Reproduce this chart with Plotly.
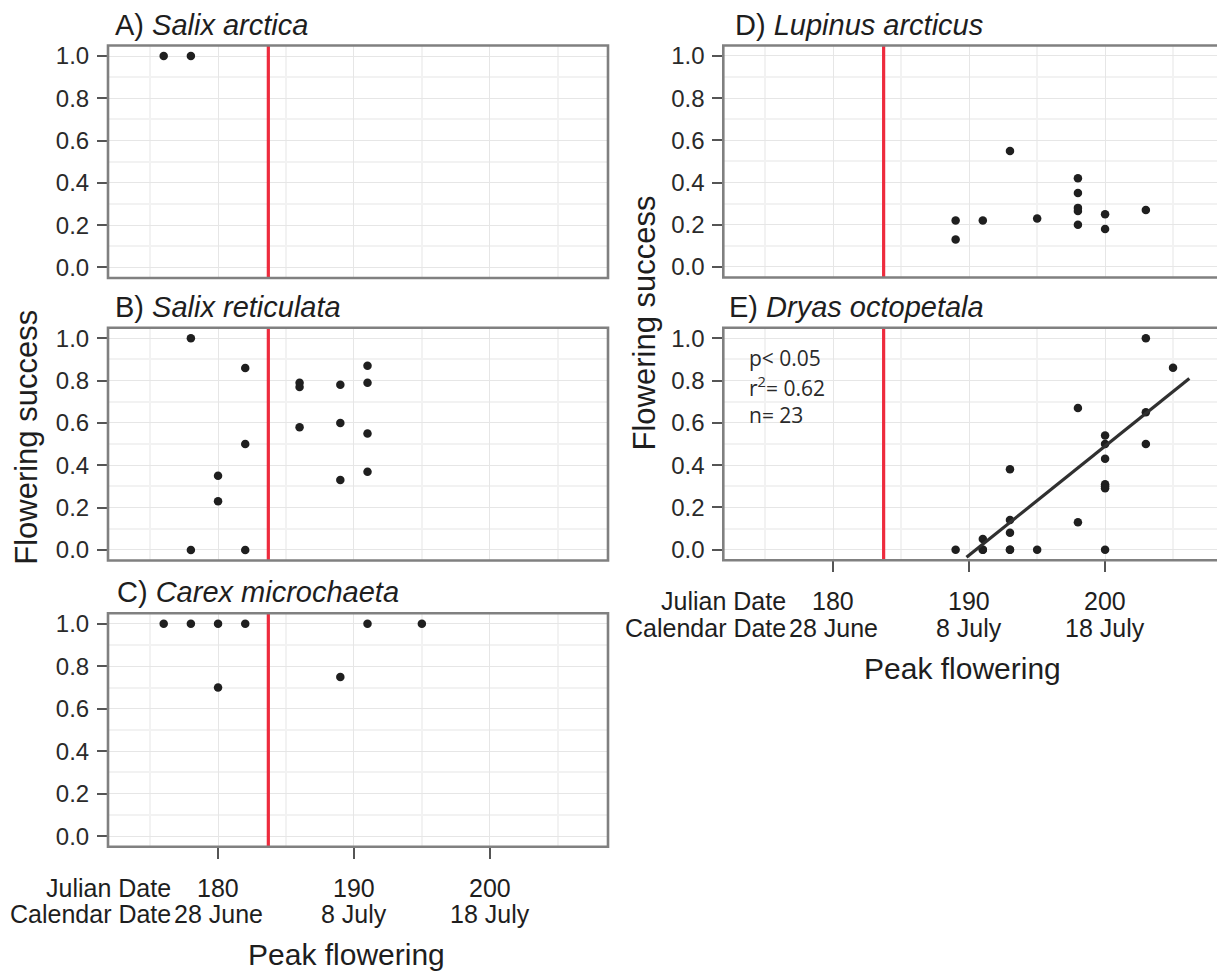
import plotly.graph_objects as go

# ---------------- data ----------------
A_day = [176, 178]
A_succ = [1.0, 1.0]

B_day = [178, 178, 180, 180, 182, 182, 182, 186, 186, 186, 189, 189, 189, 191, 191, 191, 191]
B_succ = [1.0, 0.0, 0.35, 0.23, 0.86, 0.50, 0.0, 0.79, 0.77, 0.58, 0.78, 0.60, 0.33, 0.87, 0.79, 0.55, 0.37]

C_day = [176, 178, 180, 180, 182, 189, 191, 195]
C_succ = [1.0, 1.0, 1.0, 0.70, 1.0, 0.75, 1.0, 1.0]

D_day = [189, 189, 191, 193, 195, 198, 198, 198, 198, 198, 200, 200, 203]
D_succ = [0.22, 0.13, 0.22, 0.55, 0.23, 0.42, 0.35, 0.28, 0.265, 0.20, 0.25, 0.18, 0.27]

E_day = [189, 191, 191, 191, 193, 193, 193, 193, 193, 195, 198, 198,
         200, 200, 200, 200, 200, 200, 200, 203, 203, 203, 205]
E_succ = [0.0, 0.05, 0.0, 0.0, 0.38, 0.14, 0.08, 0.0, 0.0, 0.0, 0.67, 0.13,
          0.54, 0.50, 0.43, 0.31, 0.30, 0.29, 0.0, 1.0, 0.65, 0.50, 0.86]

E_fit_day = [189.8, 206.2]
E_fit_succ = [-0.036, 0.81]

snowmelt_day = 183.7

julian_ticks = [180, 190, 200]
calendar_labels = ["28 June", "8 July", "18 July"]
minor_days = [175, 185, 195, 205]
y_ticks = [0.0, 0.2, 0.4, 0.6, 0.8, 1.0]
y_labels = ["0.0", "0.2", "0.4", "0.6", "0.8", "1.0"]
y_minor = [0.1, 0.3, 0.5, 0.7, 0.9]

titles = ["A) <i>Salix arctica</i>", "B) <i>Salix reticulata</i>", "C) <i>Carex microchaeta</i>",
          "D) <i>Lupinus arcticus</i>", "E) <i>Dryas octopetala</i>"]
stats_lines = ["p< 0.05", "r<sup>2</sup>= 0.62", "n= 23"]

# ---------------- layout geometry (pixels) ----------------
W, H = 1217, 974
FONT = "Liberation Sans, Arial, sans-serif"
TXT = "#1e1e1e"


def fx(p):
    return p / W


def fy(p):
    return 1 - p / H


PXDAY = 500 / (208.7 - 171.9)
panels = [
    dict(x=(108, 608), y=(42.7, 276.7), day=A_day, succ=A_succ, bottom=False, tdx=4.7),
    dict(x=(108, 608), y=(326.7, 561.0), day=B_day, succ=B_succ, bottom=False, tdx=5.3),
    dict(x=(108, 608), y=(614.0, 849.0), day=C_day, succ=C_succ, bottom=True, tdx=6.5),
    dict(x=(723.3, 1217), y=(42.7, 276.2), day=D_day, succ=D_succ, bottom=False, tdx=10),
    dict(x=(723.3, 1217), y=(326.7, 560.7), day=E_day, succ=E_succ, bottom=True, tdx=4),
]

fig = go.Figure()
layout = dict(
    width=W, height=H, margin=dict(l=0, r=0, t=0, b=0),
    paper_bgcolor="white", plot_bgcolor="white", showlegend=False,
    font=dict(family=FONT, color=TXT),
)
shapes = []
annotations = []

for i, p in enumerate(panels, start=1):
    xa = "xaxis" if i == 1 else f"xaxis{i}"
    ya = "yaxis" if i == 1 else f"yaxis{i}"
    xr = "x" if i == 1 else f"x{i}"
    yr = "y" if i == 1 else f"y{i}"
    x0, x1 = p["x"]
    y0, y1 = p["y"]
    xmax = 171.9 + (x1 - x0) / PXDAY
    layout[xa] = dict(
        domain=[fx(x0), fx(x1)], range=[171.9, xmax], anchor=yr,
        tickvals=julian_ticks, showticklabels=False,
        ticks="outside" if p["bottom"] else "", ticklen=11, tickwidth=1.5, tickcolor="#555555",
        showgrid=True, gridcolor="#e6e6e6", gridwidth=1.3,
        minor=dict(tickvals=minor_days, showgrid=True, gridcolor="#f2f2f2", gridwidth=1.5, ticks=""),
        zeroline=False, showline=False, fixedrange=True,
    )
    layout[ya] = dict(
        domain=[fy(y1), fy(y0)], range=[-0.05, 1.05], anchor=xr,
        tickvals=y_ticks, ticktext=y_labels, ticks="outside", ticklen=10, tickwidth=1.5,
        tickcolor="#555555", tickfont=dict(size=24, color="#2a2a2a", family=FONT),
        ticklabelstandoff=3,
        showgrid=True, gridcolor="#e6e6e6", gridwidth=1.3,
        minor=dict(tickvals=y_minor, showgrid=True, gridcolor="#f2f2f2", gridwidth=1.5, ticks=""),
        zeroline=False, showline=False, fixedrange=True,
    )
    # red reference line (snowmelt)
    shapes.append(dict(type="line", xref=xr, yref=f"{yr} domain", x0=snowmelt_day, x1=snowmelt_day,
                       y0=0, y1=1, line=dict(color="#EE2B3D", width=3.2), layer="above"))
    # panel border
    shapes.append(dict(type="rect", xref="paper", yref="paper", x0=fx(x0), x1=fx(x1 + 8 if i >= 4 else x1),
                       y0=fy(y1), y1=fy(y0), line=dict(color="#808080", width=2.6),
                       fillcolor="rgba(0,0,0,0)", layer="above"))
    # points
    fig.add_trace(go.Scatter(x=p["day"], y=p["succ"], mode="markers", xaxis=xr, yaxis=yr,
                             marker=dict(size=8.5, color="#1f1f1f"), cliponaxis=False))
    # panel title
    annotations.append(dict(text=titles[i - 1], xref="paper", yref="paper", x=fx(x0 + p["tdx"]),
                            y=fy(y0 - 21), xanchor="left", yanchor="middle", showarrow=False,
                            font=dict(size=29, color=TXT, family=FONT)))
    # bottom tick labels
    if p["bottom"]:
        r1 = y1 + 41.5
        r2 = r1 + 26.5
        for d, lab in zip(julian_ticks, calendar_labels):
            annotations.append(dict(text=str(d), xref=xr, yref="paper", x=d, y=fy(r1),
                                    xanchor="center", yanchor="middle", showarrow=False,
                                    font=dict(size=25, color=TXT, family=FONT)))
            annotations.append(dict(text=lab, xref=xr, yref="paper", x=d, y=fy(r2),
                                    xanchor="center", yanchor="middle", showarrow=False,
                                    font=dict(size=25, color=TXT, family=FONT)))
        annotations.append(dict(text="Julian Date", xref="paper", yref="paper", x=fx(x0 + 64.5),
                                y=fy(r1), xanchor="right", yanchor="middle", showarrow=False,
                                font=dict(size=25, color=TXT, family=FONT)))
        annotations.append(dict(text="Calendar Date", xref="paper", yref="paper", x=fx(x0 + 64.5),
                                y=fy(r2), xanchor="right", yanchor="middle", showarrow=False,
                                font=dict(size=25, color=TXT, family=FONT)))
        annotations.append(dict(text="Peak flowering", xref="paper", yref="paper",
                                x=fx(x0 + 238.7), y=fy(y1 + 108.5), xanchor="center", yanchor="middle",
                                showarrow=False, font=dict(size=30, color=TXT, family=FONT)))

# regression line in panel E
fig.add_trace(go.Scatter(x=E_fit_day, y=E_fit_succ, mode="lines", xaxis="x5", yaxis="y5",
                         line=dict(color="#303030", width=3.2)))

# stats text in panel E
for k, s in enumerate(stats_lines):
    annotations.append(dict(text=s, xref="paper", yref="paper", x=fx(747), y=fy(356.7 + 28.8 * k),
                            xanchor="left", yanchor="middle", showarrow=False,
                            font=dict(size=21, color="#2a2a2a", family="Open Sans, sans-serif")))

# y axis titles
annotations.append(dict(text="Flowering success", xref="paper", yref="paper", x=fx(27), y=fy(437.5),
                        textangle=-90, xanchor="center", yanchor="middle", showarrow=False,
                        font=dict(size=31, color=TXT, family=FONT)))
annotations.append(dict(text="Flowering success", xref="paper", yref="paper", x=fx(645), y=fy(322.5),
                        textangle=-90, xanchor="center", yanchor="middle", showarrow=False,
                        font=dict(size=31, color=TXT, family=FONT)))

layout["shapes"] = shapes
layout["annotations"] = annotations
fig.update_layout(**layout)
fig.write_html("out.html")
